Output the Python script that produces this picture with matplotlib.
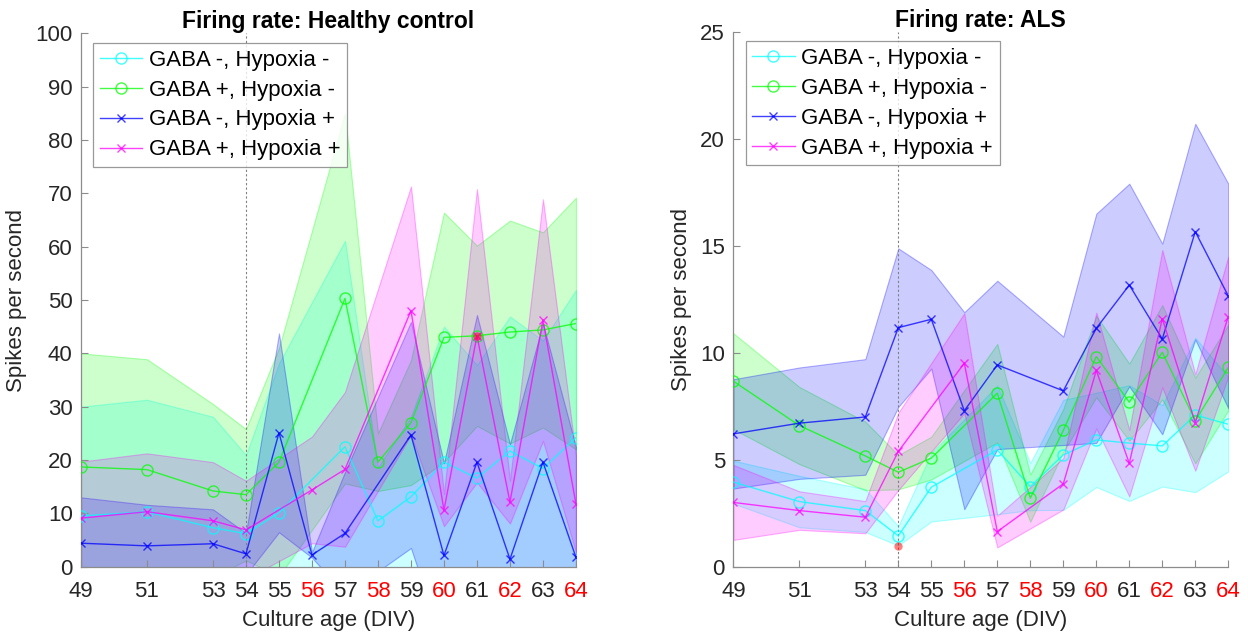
import matplotlib
matplotlib.use("Agg")
import matplotlib.pyplot as plt
import numpy as np

plt.rcParams['font.family'] = ['Liberation Sans', 'DejaVu Sans']

# ---------------- data ----------------
tick_days = [49, 51, 53, 54, 55, 56, 57, 58, 59, 60, 61, 62, 63, 64]
red_days = [56, 58, 60, 62, 64]
labels = ["GABA -, Hypoxia -", "GABA +, Hypoxia -", "GABA -, Hypoxia +", "GABA +, Hypoxia +"]

# Healthy control
hc_days_cyan = [49, 51, 53, 54, 55, 57, 58, 59, 60, 61, 62, 63, 64]
hc_mean_cyan = [9.5, 10.3, 7.3, 6.2, 10.1, 22.5, 8.6, 13.1, 19.6, 16.6, 21.7, 18.4, 24.2]
hc_sd_cyan = [20.5, 21.0, 20.8, 14.7, 28.0, 38.6, 10.0, 15.0, 25.4, 21.2, 25.2, 24.0, 27.7]

hc_days_green = [49, 51, 53, 54, 55, 57, 58, 59, 60, 61, 62, 63, 64]
hc_mean_green = [18.7, 18.2, 14.2, 13.5, 19.6, 50.3, 19.6, 27.0, 43.0, 43.3, 44.0, 44.4, 45.6]
hc_sd_green = [21.3, 20.7, 16.3, 12.3, 21.4, 34.7, 5.4, 11.7, 23.4, 16.9, 20.9, 18.3, 23.6]

hc_days_blue = [49, 51, 53, 54, 55, 56, 57, 59, 60, 61, 62, 63, 64]
hc_mean_blue = [4.4, 3.9, 4.3, 2.4, 25.1, 2.2, 6.25, 24.7, 2.1, 19.6, 1.4, 19.6, 1.75]
hc_sd_blue = [8.6, 7.7, 6.45, 3.9, 18.65, 0.5, 11.5, 21.2, 17.3, 27.6, 21.6, 26.0, 20.7]

hc_days_mag = [49, 51, 53, 54, 56, 57, 59, 60, 61, 62, 63, 64]
hc_mean_mag = [9.1, 10.3, 8.6, 6.9, 14.4, 18.25, 48.0, 10.6, 43.3, 12.1, 46.25, 11.75]
hc_sd_mag = [10.6, 10.95, 11.0, 9.2, 10.0, 14.5, 23.3, 3.0, 27.5, 4.0, 22.65, 9.0]

hc_dot_day = [61]
hc_dot_val = [43.2]

# ALS
als_days_cyan = [49, 51, 53, 54, 55, 57, 58, 59, 60, 61, 62, 63, 64]
als_mean_cyan = [3.97, 3.06, 2.64, 1.46, 3.73, 5.47, 3.76, 5.24, 5.94, 5.79, 5.66, 7.1, 6.67]
als_sd_cyan = [1.0, 1.2, 1.0, 0.45, 1.6, 3.0, 1.1, 2.57, 2.2, 2.7, 1.9, 3.6, 2.2]

als_days_green = [49, 51, 53, 54, 55, 57, 58, 59, 60, 61, 62, 63, 64]
als_mean_green = [8.68, 6.61, 5.19, 4.43, 5.09, 8.12, 3.22, 6.38, 9.83, 7.7, 10.03, 6.84, 9.32]
als_sd_green = [2.24, 1.8, 1.6, 0.8, 1.0, 2.3, 1.1, 1.0, 1.9, 1.8, 2.2, 2.0, 2.0]

als_days_blue = [49, 51, 53, 54, 55, 56, 57, 59, 60, 61, 62, 63, 64]
als_mean_blue = [6.22, 6.72, 7.01, 11.18, 11.57, 7.3, 9.44, 8.23, 11.15, 13.17, 10.65, 15.66, 12.66]
als_sd_blue = [2.55, 2.6, 2.7, 3.7, 2.3, 4.6, 3.93, 2.53, 5.35, 4.73, 4.45, 5.04, 5.24]

als_days_mag = [49, 51, 53, 54, 56, 57, 59, 60, 61, 62, 63, 64]
als_mean_mag = [3.02, 2.64, 2.33, 5.4, 9.52, 1.66, 3.89, 9.18, 4.85, 11.6, 6.75, 11.7]
als_sd_mag = [1.75, 0.9, 0.75, 1.8, 2.33, 0.74, 1.2, 2.7, 1.55, 3.2, 2.25, 2.8]

als_dot_day = [54]
als_dot_val = [1.0]

colors = [(0, 1, 1), (0, 1, 0), (0, 0, 1), (1, 0, 1)]
markers = ['o', 'o', 'x', 'x']

fig = plt.figure(figsize=(12.48, 6.39), dpi=100)
axL = fig.add_axes([0.0649, 0.1132, 0.3966, 0.8345])
axR = fig.add_axes([0.5876, 0.1125, 0.3966, 0.8380])

TICK_FS = 16
tick_gray = '#262626'
axis_gray = '#8c8c8c'


def draw(ax, series, dots, ymax, yticks, title):
    for (d, m, s), c in zip(series, colors):
        d = np.array(d, float); m = np.array(m, float); s = np.array(s, float)
        ax.fill_between(d, m - s, m + s, facecolor=c + (0.2,),
                        edgecolor=c + (0.3,), linewidth=0.8, zorder=1)
    handles = []
    for (d, m, s), c, mk, lab in zip(series, colors, markers, labels):
        h, = ax.plot(d, m, color=c, alpha=0.75, lw=1.0, marker=mk,
                     ms=8 if mk == 'o' else 6, mfc='none', mew=1.0,
                     label=lab, zorder=3)
        handles.append(h)
    ax.plot(dots[0], dots[1], 'o', color='red', alpha=0.5, ms=6, mec='none', zorder=4)
    ax.axvline(54, color='#808080', lw=0.8, ls=(0, (2, 2)), zorder=2)
    ax.set_xlim(49, 64)
    ax.set_ylim(0, ymax)
    ax.set_xticks(tick_days)
    ax.set_xticklabels([str(t) for t in tick_days])
    ax.set_yticks(yticks)
    ax.tick_params(axis='both', direction='in', length=5, width=0.8,
                   colors=axis_gray, labelsize=TICK_FS, pad=6)
    ax.tick_params(axis='x', pad=10)
    for lab, t in zip(ax.get_xticklabels(), tick_days):
        lab.set_color('red' if t in red_days else tick_gray)
    for lab in ax.get_yticklabels():
        lab.set_color(tick_gray)
    for sp in ['top', 'right']:
        ax.spines[sp].set_visible(False)
    for sp in ['left', 'bottom']:
        ax.spines[sp].set_color(axis_gray)
        ax.spines[sp].set_linewidth(0.9)
    ax.set_xlabel('Culture age (DIV)', fontsize=16, color=tick_gray, labelpad=6)
    ax.set_ylabel('Spikes per second', fontsize=16, color=tick_gray, labelpad=6)
    ax.set_title(title, fontsize=16.5, fontweight='bold', pad=3)
    leg = ax.legend(handles=handles, loc='upper left', bbox_to_anchor=(0.025, 0.982),
                    fontsize=16, frameon=True, fancybox=False, borderpad=0.3,
                    labelspacing=0.4, handlelength=1.9, handletextpad=0.3,
                    borderaxespad=0)
    leg.get_frame().set_edgecolor('#808080')
    leg.get_frame().set_linewidth(0.9)
    for t in leg.get_texts():
        t.set_color('black')


hc_series = [(hc_days_cyan, hc_mean_cyan, hc_sd_cyan),
             (hc_days_green, hc_mean_green, hc_sd_green),
             (hc_days_blue, hc_mean_blue, hc_sd_blue),
             (hc_days_mag, hc_mean_mag, hc_sd_mag)]
als_series = [(als_days_cyan, als_mean_cyan, als_sd_cyan),
              (als_days_green, als_mean_green, als_sd_green),
              (als_days_blue, als_mean_blue, als_sd_blue),
              (als_days_mag, als_mean_mag, als_sd_mag)]

draw(axL, hc_series, (hc_dot_day, hc_dot_val), 100, np.arange(0, 101, 10),
     'Firing rate: Healthy control')
draw(axR, als_series, (als_dot_day, als_dot_val), 25, np.arange(0, 26, 5),
     'Firing rate: ALS')

fig.savefig('out.png', dpi=100)
